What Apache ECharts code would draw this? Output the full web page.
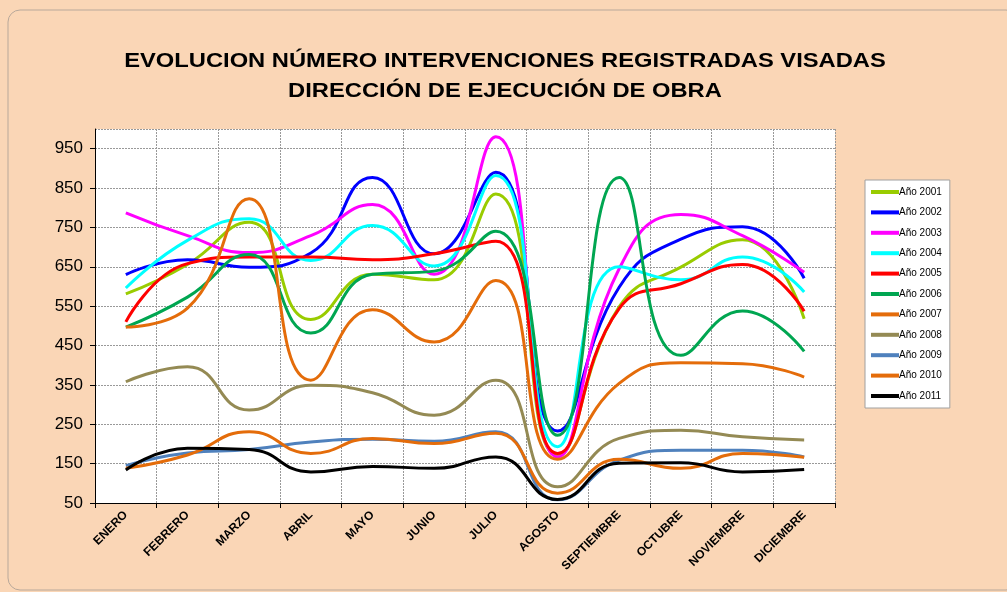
<!DOCTYPE html>
<html>
<head>
<meta charset="utf-8">
<script src="https://cdn.jsdelivr.net/npm/echarts@6/dist/echarts.min.js"></script>
<style>
  html, body { margin: 0; padding: 0; background: #fff; }
  #chart { width: 1007px; height: 592px; }
</style>
</head>
<body>
<div id="chart"></div>
<script>
const months = ['ENERO', 'FEBRERO', 'MARZO', 'ABRIL', 'MAYO', 'JUNIO', 'JULIO', 'AGOSTO', 'SEPTIEMBRE', 'OCTUBRE', 'NOVIEMBRE', 'DICIEMBRE'];

const y2001 = [581, 656, 763, 516, 631, 617, 835, 170, 548, 649, 719, 518];
const y2002 = [630, 668, 649, 685, 877, 683, 890, 233, 598, 720, 752, 621];
const y2003 = [787, 729, 686, 729, 808, 631, 980, 167, 645, 783, 729, 636];
const y2004 = [596, 717, 772, 666, 755, 652, 882, 193, 650, 617, 675, 586];
const y2005 = [510, 658, 675, 675, 668, 683, 715, 176, 544, 607, 656, 537];
const y2006 = [497, 573, 681, 482, 631, 639, 740, 222, 877, 425, 538, 435];
const y2007 = [497, 545, 823, 362, 541, 459, 615, 161, 354, 406, 404, 370];
const y2008 = [358, 396, 286, 349, 330, 273, 362, 91, 214, 235, 218, 210];
const y2009 = [145, 177, 186, 205, 212, 207, 231, 58, 159, 184, 184, 167];
const y2010 = [138, 172, 231, 176, 214, 201, 227, 75, 161, 138, 176, 166];
const y2011 = [134, 189, 186, 129, 143, 138, 167, 59, 151, 152, 129, 135];

const seriesNames = ['Año 2001', 'Año 2002', 'Año 2003', 'Año 2004', 'Año 2005', 'Año 2006', 'Año 2007', 'Año 2008', 'Año 2009', 'Año 2010', 'Año 2011'];
const seriesData = [y2001, y2002, y2003, y2004, y2005, y2006, y2007, y2008, y2009, y2010, y2011];
const colors = ['#99CC00', '#0000FF', '#FF00FF', '#00FFFF', '#FF0000', '#00A651', '#E46C0A', '#948A54', '#4F81BD', '#E46C0A', '#000000'];

const fontFam = 'Liberation Sans, Arial, sans-serif';
const chart = echarts.init(document.getElementById('chart'));

chart.setOption({
  backgroundColor: '#FAD6B6',
  color: colors,
  animation: false,
  graphic: [{
    type: 'rect',
    shape: { x: 8, y: 10, width: 1010, height: 580, r: 12 },
    style: { fill: 'none', stroke: '#B8A89A', lineWidth: 1 },
    silent: true
  }, {
    // title drawn as text so it can be stretched wide like the original
    type: 'text',
    x: 505,
    y: 46,
    originX: 0,
    scaleX: 1.13,
    style: {
      text: 'EVOLUCION NÚMERO INTERVENCIONES REGISTRADAS VISADAS\nDIRECCIÓN DE EJECUCIÓN DE OBRA',
      font: 'bold 21px ' + fontFam,
      fill: '#000',
      align: 'center',
      lineHeight: 30
    },
    silent: true
  }],
  legend: {
    orient: 'vertical',
    left: 865,
    top: 180,
    width: 92,
    padding: [7, 8, 7, 6],
    itemGap: 10.4,
    itemWidth: 28,
    itemHeight: 4,
    icon: 'rect',
    backgroundColor: '#fff',
    borderColor: '#A0A0A0',
    borderWidth: 1,
    textStyle: {
      fontFamily: fontFam,
      fontSize: 10,
      color: '#000',
      padding: [0, 0, 0, -5]
    },
    data: seriesNames
  },
  grid: {
    left: 95,
    top: 129,
    width: 740,
    height: 374,
    backgroundColor: '#fff',
    show: true,
    borderWidth: 0
  },
  xAxis: {
    type: 'category',
    data: months,
    boundaryGap: true,
    axisLine: { lineStyle: { color: '#000', width: 1 } },
    axisTick: { show: true, length: 5, lineStyle: { color: '#000' } },
    axisLabel: {
      rotate: 45,
      interval: 0,
      margin: 10,
      fontFamily: fontFam,
      fontSize: 12,
      fontWeight: 'bold',
      color: '#000'
    },
    splitLine: { show: true, lineStyle: { color: '#999', width: 1, type: [2, 1] } }
  },
  yAxis: {
    type: 'value',
    min: 50,
    max: 1000,
    interval: 100,
    axisLine: { show: true, lineStyle: { color: '#000', width: 1 } },
    axisTick: { show: true, length: 5, lineStyle: { color: '#000' } },
    axisLabel: {
      showMaxLabel: false,
      margin: 12,
      fontFamily: fontFam,
      fontSize: 17,
      color: '#000'
    },
    splitLine: { show: true, lineStyle: { color: '#999', width: 1, type: [2, 1] } }
  },
  series: seriesNames.map((name, i) => ({
    name: name,
    type: 'line',
    data: seriesData[i],
    smooth: 0.5,
    symbol: 'none',
    lineStyle: { width: 3, color: colors[i] }
  }))
});
</script>
</body>
</html>
